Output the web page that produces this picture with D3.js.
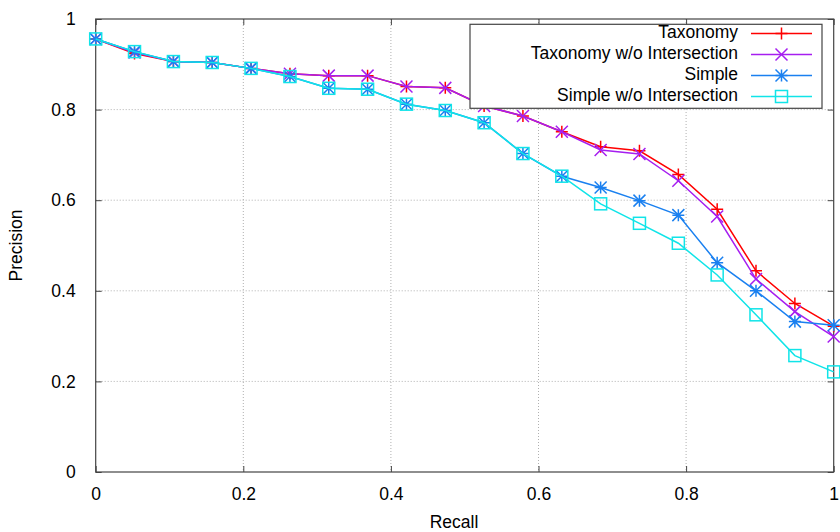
<!DOCTYPE html>
<html><head><meta charset="utf-8">
<script src="https://cdn.jsdelivr.net/npm/d3@7"></script>
<style>body{margin:0;background:#fff}svg{display:block}text{font-family:"Liberation Sans",Arial,sans-serif}</style>
</head><body><svg id="c" width="840" height="532"></svg>
<script>
const recall = [0, 0.0526, 0.1053, 0.1579, 0.2105, 0.2632, 0.3158, 0.3684, 0.4211, 0.4737, 0.5263, 0.5789, 0.6316, 0.6842, 0.7368, 0.7895, 0.8421, 0.8947, 0.9474, 1.0];
const taxonomy = [0.956, 0.924, 0.906, 0.904, 0.891, 0.879, 0.875, 0.875, 0.851, 0.848, 0.808, 0.786, 0.751, 0.718, 0.709, 0.657, 0.580, 0.444, 0.372, 0.322];
const taxonomyNoInt = [0.956, 0.926, 0.906, 0.904, 0.891, 0.879, 0.875, 0.875, 0.851, 0.848, 0.808, 0.786, 0.751, 0.711, 0.702, 0.643, 0.564, 0.426, 0.354, 0.299];
const simple = [0.956, 0.928, 0.906, 0.904, 0.891, 0.873, 0.847, 0.845, 0.812, 0.798, 0.771, 0.703, 0.653, 0.628, 0.599, 0.567, 0.462, 0.400, 0.332, 0.324];
const simpleNoInt = [0.956, 0.928, 0.906, 0.904, 0.891, 0.873, 0.847, 0.845, 0.812, 0.798, 0.771, 0.703, 0.653, 0.592, 0.549, 0.505, 0.435, 0.347, 0.257, 0.221];
const seriesNames = ["Taxonomy", "Taxonomy w/o Intersection", "Simple", "Simple w/o Intersection"];
const seriesColors = ["#ff0000", "#a61ef0", "#1a80f0", "#10e4e8"];
const seriesMarkers = ["plus", "cross", "star", "square"];
const xTicks = [0, 0.2, 0.4, 0.6, 0.8, 1];
const yTicks = [0, 0.2, 0.4, 0.6, 0.8, 1];
const xLabel = "Recall", yLabel = "Precision";

const svg = d3.select("#c");
const L = 95.7, R = 833.7, T = 19, B = 472;
const x = d3.scaleLinear().domain([0, 1]).range([L, R]);
const y = d3.scaleLinear().domain([0, 1]).range([B, T]);
const fs = "17.5px";

// grid
const g = svg.append("g");
g.selectAll(".gx").data(xTicks.filter(d => d > 0 && d < 1)).join("line")
  .attr("x1", d => x(d)).attr("x2", d => x(d)).attr("y1", T).attr("y2", B)
  .attr("stroke", "#b0b0b0").attr("stroke-width", 1).attr("stroke-dasharray", "1,2");
g.selectAll(".gy").data(yTicks.filter(d => d > 0 && d < 1)).join("line")
  .attr("y1", d => y(d)).attr("y2", d => y(d)).attr("x1", L).attr("x2", R)
  .attr("stroke", "#b0b0b0").attr("stroke-width", 1).attr("stroke-dasharray", "1,2");

// axes with labels
const ax = svg.append("g");
const xa = ax.append("g").attr("transform", `translate(0,${B})`)
  .call(d3.axisBottom(x).tickValues(xTicks).tickFormat(d3.format("~g")).tickSize(-6).tickPadding(16));
const xa2 = ax.append("g").attr("transform", `translate(0,${T})`)
  .call(d3.axisTop(x).tickValues(xTicks).tickFormat("").tickSize(-6));
const ya = ax.append("g").attr("transform", `translate(${L},0)`)
  .call(d3.axisLeft(y).tickValues(yTicks).tickFormat(d3.format("~g")).tickSize(-6).tickPadding(20));
const ya2 = ax.append("g").attr("transform", `translate(${R},0)`)
  .call(d3.axisRight(y).tickValues(yTicks).tickFormat("").tickSize(-6));
ax.selectAll(".domain").remove();
ax.selectAll(".tick line").attr("stroke", "#444").attr("stroke-width", 1);
ax.selectAll(".tick text").attr("font-size", fs).attr("fill", "#000")
  .attr("font-family", '"Liberation Sans",Arial,sans-serif');
svg.append("rect").attr("x", L).attr("y", T).attr("width", R - L).attr("height", B - T)
  .attr("fill", "none").attr("stroke", "#444").attr("stroke-width", 1.2);

svg.append("text").attr("x", 454).attr("y", 523).attr("text-anchor", "middle")
  .attr("dominant-baseline", "middle").attr("font-size", fs).text(xLabel);
svg.append("text").attr("transform", `translate(17,${(T + B) / 2}) rotate(-90)`)
  .attr("text-anchor", "middle").attr("dominant-baseline", "middle").attr("font-size", fs).text(yLabel);

// markers
function marker(sel, type, color) {
  const s = 6;
  if (type === "plus") {
    sel.append("path").attr("d", `M${-s},0H${s}M0,${-s}V${s}`);
  } else if (type === "cross") {
    sel.append("path").attr("d", `M${-s},${-s}L${s},${s}M${-s},${s}L${s},${-s}`);
  } else if (type === "star") {
    sel.append("path").attr("d", `M${-s},0H${s}M0,${-s}V${s}M${-s},${-s}L${s},${s}M${-s},${s}L${s},${-s}`);
  } else {
    sel.append("rect").attr("x", -s).attr("y", -s).attr("width", 2 * s).attr("height", 2 * s).attr("fill", "none");
  }
  sel.selectAll("path,rect").attr("stroke", color).attr("stroke-width", 1.5).attr("fill", "none");
}

const allSeries = [taxonomy, taxonomyNoInt, simple, simpleNoInt];
const line = d3.line().x((d, i) => x(recall[i])).y(d => y(d));
const plot = svg.append("g");
allSeries.forEach((vals, si) => {
  const sg = plot.append("g");
  sg.append("path").attr("d", line(vals)).attr("fill", "none")
    .attr("stroke", seriesColors[si]).attr("stroke-width", 1.5);
  vals.forEach((v, i) => {
    const m = sg.append("g").attr("transform", `translate(${x(recall[i])},${y(v)})`);
    marker(m, seriesMarkers[si], seriesColors[si]);
  });
});

// legend
const lg = svg.append("g");
lg.append("rect").attr("x", 470).attr("y", 24.3).attr("width", 352).attr("height", 84)
  .attr("fill", "#fff").attr("stroke", "#444").attr("stroke-width", 1.2);
const rowY = [33.5, 54.5, 75.5, 96.5];
seriesNames.forEach((n, i) => {
  lg.append("text").attr("x", 738).attr("y", rowY[i]).attr("text-anchor", "end")
    .attr("dominant-baseline", "middle").attr("font-size", fs).text(n);
  lg.append("line").attr("x1", 751).attr("x2", 812).attr("y1", rowY[i]).attr("y2", rowY[i])
    .attr("stroke", seriesColors[i]).attr("stroke-width", 1.5);
  const m = lg.append("g").attr("transform", `translate(781.5,${rowY[i]})`);
  marker(m, seriesMarkers[i], seriesColors[i]);
});
</script></body></html>
